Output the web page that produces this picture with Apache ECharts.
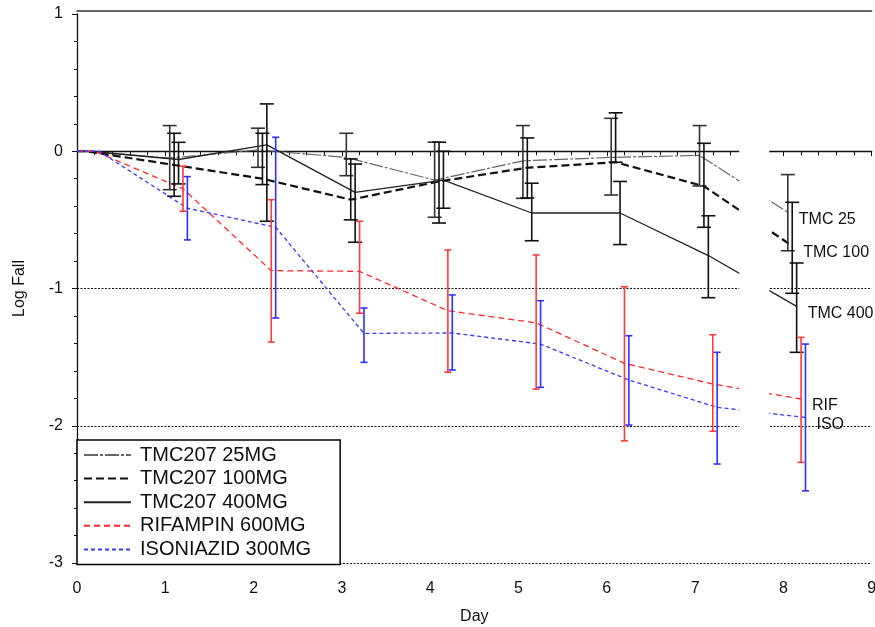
<!DOCTYPE html>
<html>
<head>
<meta charset="utf-8">
<script src="https://cdn.jsdelivr.net/npm/echarts@6/dist/echarts.min.js"></script>
<style>html,body{margin:0;padding:0;background:#fff}#c{width:875px;height:627px}</style>
</head>
<body>
<div id="c"></div>
<script>
// ---- data ----
const DAYS = [0, 1, 2, 3, 4, 5, 6, 7, 8];
const BASELINE_DAY = 0;
const SERIES_NAMES = ['TMC207 25MG', 'TMC207 100MG', 'TMC207 400MG', 'RIFAMPIN 600MG', 'ISONIAZID 300MG'];
const END_LABELS = ['TMC 25', 'TMC 100', 'TMC 400', 'RIF', 'ISO'];
const JITTER = [0.05, 0.10, 0.15, 0.20, 0.25];
const AXIS_BREAK = [7.5, 7.84];
const X_TICKS = [0, 1, 2, 3, 4, 5, 6, 7, 8, 9];
const Y_TICKS = [-3, -2, -1, 0, 1];

const TMC25_MEAN = [0, -0.05, 0.01, -0.045, -0.21, -0.07, -0.045, -0.03, -0.445];
const TMC25_LOW  = [null, -0.28, -0.117, -0.178, -0.481, -0.343, -0.319, -0.253, -0.725];
const TMC25_HIGH = [null, 0.187, 0.168, 0.131, 0.066, 0.187, 0.24, 0.187, -0.17];

const TMC100_MEAN = [0, -0.10, -0.20, -0.353, -0.22, -0.12, -0.08, -0.255, -0.69];
const TMC100_LOW  = [null, -0.328, -0.243, -0.50, -0.523, -0.34, -0.08, -0.554, -1.035];
const TMC100_HIGH = [null, 0.131, 0.131, -0.056, 0.066, 0.097, 0.28, 0.058, -0.372];

const TMC400_MEAN = [0, -0.06, 0.046, -0.30, -0.21, -0.45, -0.45, -0.76, -1.13];
const TMC400_LOW  = [null, -0.238, -0.51, -0.663, -0.415, -0.652, -0.68, -1.067, -1.465];
const TMC400_HIGH = [null, 0.065, 0.345, -0.093, 0.0, -0.233, -0.22, -0.47, -0.814];

const RIF_MEAN = [0, -0.273, -0.87, -0.875, -1.162, -1.25, -1.545, -1.696, -1.805];
const RIF_LOW  = [null, -0.437, -1.39, -1.18, -1.61, -1.733, -2.11, -2.04, -2.267];
const RIF_HIGH = [null, -0.109, -0.353, -0.51, -0.72, -0.756, -0.987, -1.337, -1.356];

const ISO_MEAN = [0, -0.415, -0.554, -1.327, -1.324, -1.405, -1.667, -1.866, -1.94];
const ISO_LOW  = [null, -0.646, -1.215, -1.538, -1.594, -1.72, -1.995, -2.279, -2.474];
const ISO_HIGH = [null, -0.185, 0.102, -1.142, -1.047, -1.089, -1.344, -1.465, -1.405];

// ---- styles ----
const MEANS = [TMC25_MEAN, TMC100_MEAN, TMC400_MEAN, RIF_MEAN, ISO_MEAN];
const LOWS = [TMC25_LOW, TMC100_LOW, TMC400_LOW, RIF_LOW, ISO_LOW];
const HIGHS = [TMC25_HIGH, TMC100_HIGH, TMC400_HIGH, RIF_HIGH, ISO_HIGH];
const LINE_STYLES = [
  {color: '#666', width: 1.2, type: [14, 2, 3, 2]},
  {color: '#111', width: 2.2, type: [8, 4]},
  {color: '#222', width: 1.3, type: 'solid'},
  {color: '#ff2a2a', width: 1.3, type: [6, 4]},
  {color: '#3a3aff', width: 1.3, type: [4, 3]}
];
const ERR_COLORS = ['#333', '#111', '#111', '#ff3a3a', '#3030ff'];
const CAP_HALF = [7, 7, 7, 3.5, 3.5];
const FONT = 'Arial, "Liberation Sans", sans-serif';

const series = [];
MEANS.forEach((m, i) => {
  const pts = [[BASELINE_DAY, 0]];
  DAYS.forEach((d, k) => pts.push([d + JITTER[i], m[k]]));
  series.push({
    name: SERIES_NAMES[i], type: 'line', data: pts, symbol: 'none', z: 3,
    lineStyle: LINE_STYLES[i], itemStyle: {color: LINE_STYLES[i].color},
    endLabel: {show: true, formatter: END_LABELS[i], distance: 11, offset: [0, 7],
               fontSize: 16, fontFamily: FONT, color: '#111'}
  });
});
MEANS.forEach((m, i) => {
  const errs = [];
  DAYS.forEach((d, k) => { if (LOWS[i][k] !== null) errs.push([d + JITTER[i], LOWS[i][k], HIGHS[i][k]]); });
  series.push({
    name: SERIES_NAMES[i] + ' err', type: 'custom', data: errs, z: 4,
    renderItem: function (params, api) {
      const x = api.value(0);
      const lo = api.coord([x, api.value(1)]);
      const hi = api.coord([x, api.value(2)]);
      const h = CAP_HALF[i];
      const st = {stroke: ERR_COLORS[i], lineWidth: 1.6};
      return {type: 'group', children: [
        {type: 'line', shape: {x1: lo[0], y1: lo[1], x2: hi[0], y2: hi[1]}, style: st},
        {type: 'line', shape: {x1: lo[0] - h, y1: lo[1], x2: lo[0] + h, y2: lo[1]}, style: st},
        {type: 'line', shape: {x1: hi[0] - h, y1: hi[1], x2: hi[0] + h, y2: hi[1]}, style: st}
      ]};
    }
  });
});
// white mask for the broken-axis gap between day 7 and day 8
series.push({
  name: 'break', type: 'custom', data: [[AXIS_BREAK[0], AXIS_BREAK[1]]], z: 20, silent: true,
  renderItem: function (params, api) {
    const a = api.coord([api.value(0), Y_TICKS[Y_TICKS.length - 1]]);
    const b = api.coord([api.value(1), Y_TICKS[0] + 0.03]);
    return {type: 'rect', shape: {x: a[0], y: a[1] - 1, width: b[0] - a[0], height: b[1] - a[1] + 1},
            style: {fill: '#fff'}};
  }
});

const chart = echarts.init(document.getElementById('c'));
chart.setOption({
  animation: false,
  backgroundColor: '#fff',
  grid: {left: 77, right: 3.3, top: 14, bottom: 64, outerBoundsMode: 'none', containLabel: false},
  legend: {
    data: SERIES_NAMES, orient: 'vertical', left: 77, top: 440,
    itemWidth: 47, itemHeight: 14, itemGap: 3.6,
    padding: [5, 29, 5, 6], borderColor: '#000', borderWidth: 1.5,
    backgroundColor: '#fff', z: 30,
    itemStyle: {opacity: 0},
    textStyle: {fontSize: 20, fontFamily: FONT, color: '#111', lineHeight: 20, padding: [0, 0, 0, 4]}
  },
  xAxis: [{
    type: 'value', min: X_TICKS[0], max: X_TICKS[X_TICKS.length - 1], interval: 1,
    offset: 3, name: 'Day', nameLocation: 'middle', nameGap: 43,
    nameTextStyle: {fontSize: 16, fontFamily: FONT, color: '#111'},
    axisLine: {show: true, lineStyle: {color: '#111', width: 1.3}},
    axisTick: {show: true, length: 5, lineStyle: {color: '#111'}},
    minorTick: {show: true, splitNumber: 5, length: 4, lineStyle: {color: '#111'}},
    axisLabel: {fontSize: 16, fontFamily: FONT, color: '#111', margin: 15},
    splitLine: {show: false}
  }, {
    type: 'value', position: 'top', min: X_TICKS[0], max: X_TICKS[X_TICKS.length - 1], offset: 3,
    axisLine: {show: true, lineStyle: {color: '#333', width: 1.5}},
    axisTick: {show: false}, axisLabel: {show: false}, splitLine: {show: false}
  }],
  yAxis: {
    type: 'value', min: Y_TICKS[0], max: Y_TICKS[Y_TICKS.length - 1], interval: 1,
    offset: 6, name: 'Log Fall', nameLocation: 'middle', nameGap: 43,
    nameTextStyle: {fontSize: 16, fontFamily: FONT, color: '#111'},
    axisLine: {show: true, lineStyle: {color: '#111', width: 1.3}},
    axisTick: {show: true, length: 5, lineStyle: {color: '#111'}},
    minorTick: {show: true, splitNumber: 5, length: 3, lineStyle: {color: '#111'}},
    axisLabel: {fontSize: 16, fontFamily: FONT, color: '#111', margin: 8},
    splitLine: {show: true, showMaxLine: false, showMinLine: true,
                lineStyle: {color: '#111', width: 1.2, type: [2, 1.5]}}
  },
  series: series
});
</script>
</body>
</html>
